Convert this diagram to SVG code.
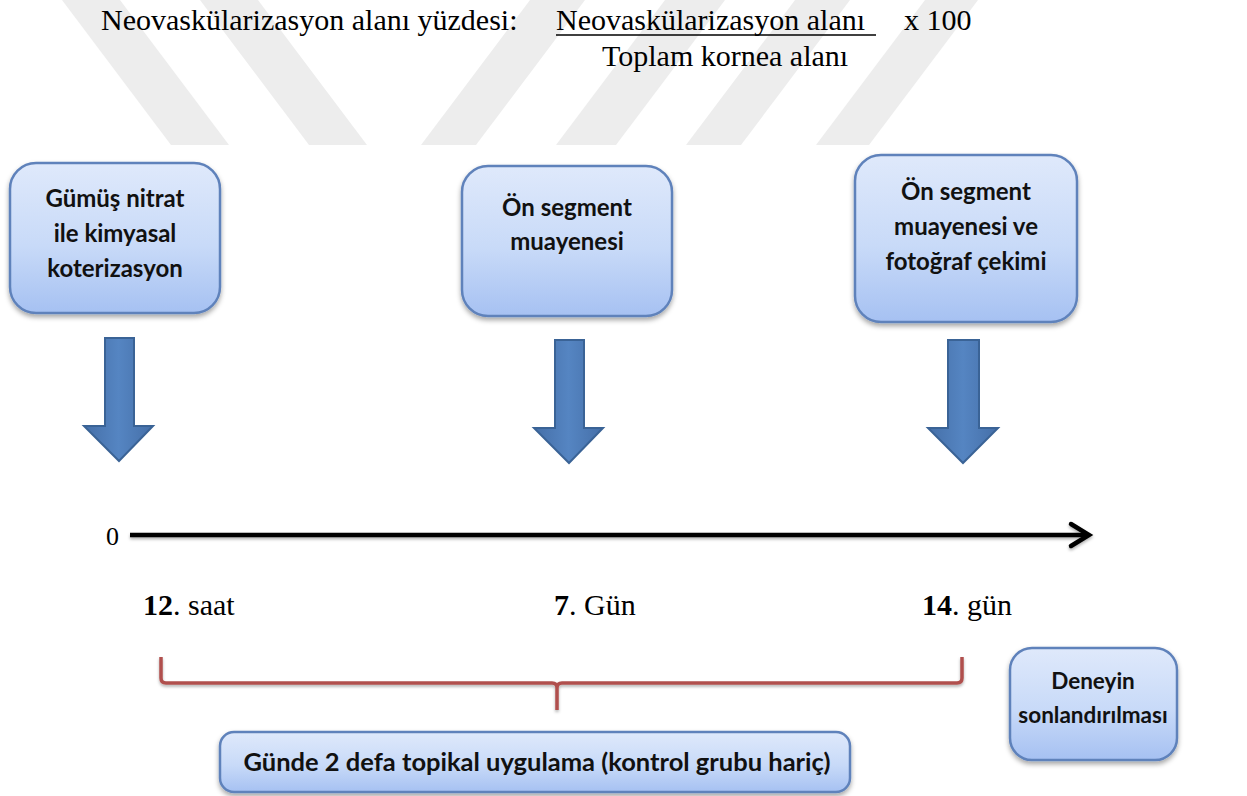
<svg xmlns="http://www.w3.org/2000/svg" width="1247" height="796" viewBox="0 0 1247 796">
<defs>
<linearGradient id="boxg" x1="0" y1="0" x2="0" y2="1">
<stop offset="0" stop-color="#dfe9fb"/>
<stop offset="0.55" stop-color="#c8daf8"/>
<stop offset="1" stop-color="#a6c1f2"/>
</linearGradient>
<linearGradient id="arrg" x1="0" y1="0" x2="1" y2="0">
<stop offset="0" stop-color="#456fa8"/>
<stop offset="0.5" stop-color="#5585c2"/>
<stop offset="1" stop-color="#456fa8"/>
</linearGradient>
<filter id="sh" x="-10%" y="-10%" width="120%" height="130%">
<feDropShadow dx="0" dy="3" stdDeviation="2.5" flood-color="#000" flood-opacity="0.35"/>
</filter>
<filter id="lsh" x="-5%" y="-50%" width="110%" height="200%">
<feDropShadow dx="0" dy="2" stdDeviation="1.5" flood-color="#000" flood-opacity="0.3"/>
</filter>
</defs>
<style>
.box{fill:url(#boxg);stroke:#5f82bb;stroke-width:2.5;filter:url(#sh)}
.bt{font-family:Lato,"Liberation Sans",sans-serif;font-weight:700;font-size:24px;fill:#111;text-anchor:middle}
.bts{font-size:22.5px}
.btl{font-size:25.5px}
.arr{fill:url(#arrg);stroke:#3a6396;stroke-width:2}
.ser{font-family:"Liberation Serif","Times New Roman",serif;fill:#000;font-size:30px}
.wm{fill:#ededed}
</style>
<rect width="1247" height="796" fill="#fff"/>
<g id="watermark">
<polygon class="wm" points="62,0 120,0 229,145 171,145"/>
<polygon class="wm" points="200,0 258,0 367,145 309,145"/>
<polygon class="wm" points="530,0 585,0 476,145 421,145"/>
<polygon class="wm" points="665,0 725,0 616,145 556,145"/>
<polygon class="wm" points="795,0 850,0 741,145 686,145"/>
<polygon class="wm" points="925,0 978,0 869,145 816,145"/>
</g>
<g id="formula">
<text class="ser" x="101" y="30">Neovaskülarizasyon alanı yüzdesi:</text>
<text class="ser" x="556" y="30">Neovaskülarizasyon alanı</text>
<line x1="556" y1="35" x2="876" y2="35" stroke="#000" stroke-width="1.6"/>
<text class="ser" x="904" y="30">x 100</text>
<text class="ser" x="602" y="66">Toplam kornea alanı</text>
</g>
<g id="node1">
<rect class="box" x="10" y="163" width="210" height="150" rx="26"/>
<text class="bt" x="115" y="207">Gümüş nitrat</text>
<text class="bt" x="115" y="242">ile kimyasal</text>
<text class="bt" x="115" y="277">koterizasyon</text>
</g>
<g id="node2">
<rect class="box" x="462" y="166" width="210" height="150" rx="26"/>
<text class="bt" x="567" y="216">Ön segment</text>
<text class="bt" x="567" y="250">muayenesi</text>
</g>
<g id="node3">
<rect class="box" x="855" y="155" width="222" height="167" rx="26"/>
<text class="bt" x="966" y="200">Ön segment</text>
<text class="bt" x="966" y="235">muayenesi ve</text>
<text class="bt" x="966" y="270">fotoğraf çekimi</text>
</g>
<g id="node4">
<rect class="box" x="1010" y="648" width="167" height="112" rx="22"/>
<text class="bt bts" x="1093" y="689">Deneyin</text>
<text class="bt bts" x="1093" y="723">sonlandırılması</text>
</g>
<g id="node5">
<rect class="box" x="220" y="732" width="630" height="60" rx="14"/>
<text class="bt btl" x="537" y="771">Günde 2 defa topikal uygulama (kontrol grubu hariç)</text>
</g>
<g id="connectors">
<path class="arr" d="M105,338 H134 V426 H153 L119,461 L84,426 H105 Z"/>
<path class="arr" d="M555,340 H584 V428 H603 L569,463 L534,428 H555 Z"/>
<path class="arr" d="M948,340 H979 V428 H998 L963,463 L928,428 H948 Z"/>
<g filter="url(#lsh)">
<line x1="130" y1="535" x2="1086" y2="535" stroke="#000" stroke-width="4.5"/>
<polyline points="1071,524 1089,535 1071,546" fill="none" stroke="#000" stroke-width="4.5" stroke-linecap="round" stroke-linejoin="miter"/>
</g>
<path d="M161,657 V678 Q161,683 166,683 H552 Q557,683 557,688 V710 M557,688 Q557,683 562,683 H957 Q962,683 962,678 V657" fill="none" stroke="#b0504d" stroke-width="3.5" filter="url(#lsh)"/>
</g>
<g id="timeline-labels">
<text class="ser" x="106" y="545" style="font-size:26px">0</text>
<text class="ser" x="143" y="615"><tspan font-weight="bold">12</tspan>. saat</text>
<text class="ser" x="554" y="615"><tspan font-weight="bold">7</tspan>. Gün</text>
<text class="ser" x="922" y="615"><tspan font-weight="bold">14</tspan>. gün</text>
</g>
</svg>
